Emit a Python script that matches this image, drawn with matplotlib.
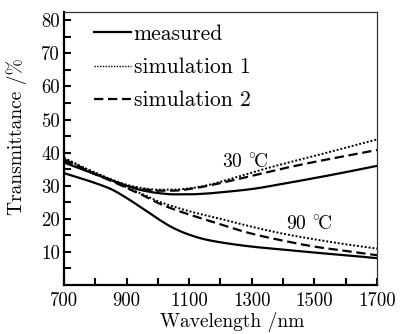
import matplotlib
matplotlib.use("Agg")
import matplotlib.pyplot as plt
from matplotlib.lines import Line2D
import numpy as np

plt.rcParams['font.family'] = ['cmr10', 'DejaVu Serif', 'Noto Sans CJK SC']
plt.rcParams['axes.unicode_minus'] = False
plt.rcParams['mathtext.fontset'] = 'cm'

# wavelength grid (nm)
wl = [700, 800, 850, 900, 950, 1000, 1050, 1100, 1150, 1200, 1300, 1400, 1500, 1600, 1700]

# 30 C curves
meas_30 = [37.0, 33.5, 31.7, 30.0, 28.6, 27.8, 27.4, 27.4, 27.6, 28.0, 29.0, 30.6, 32.3, 34.1, 36.0]
sim1_30 = [38.5, 33.8, 32.0, 30.3, 29.3, 28.8, 28.8, 29.2, 30.0, 31.2, 34.0, 36.6, 39.0, 41.5, 44.0]
sim2_30 = [38.0, 33.5, 31.7, 30.0, 29.0, 28.5, 28.5, 29.0, 29.8, 30.8, 33.0, 35.2, 37.2, 39.0, 40.8]

# 90 C curves
meas_90 = [33.8, 30.8, 29.0, 26.3, 23.2, 20.0, 17.2, 15.2, 13.8, 12.9, 11.6, 10.7, 9.8, 9.0, 8.1]
sim1_90 = [38.0, 34.0, 31.8, 29.5, 27.5, 25.3, 23.7, 22.3, 21.1, 20.0, 17.6, 15.5, 13.8, 12.3, 11.0]
sim2_90 = [37.5, 33.5, 31.5, 29.3, 27.2, 24.8, 22.9, 21.3, 19.8, 18.3, 15.5, 13.4, 11.6, 10.3, 9.0]

labels = ["measured", "simulation 1", "simulation 2"]
x_ticks = [700, 900, 1100, 1300, 1500, 1700]
y_ticks = [10, 20, 30, 40, 50, 60, 70, 80]


def pchip(x, y, xn):
    x = np.asarray(x, float)
    y = np.asarray(y, float)
    h = np.diff(x)
    d = np.diff(y) / h
    n = len(x)
    m = np.zeros(n)
    for i in range(1, n - 1):
        if d[i - 1] * d[i] <= 0:
            m[i] = 0.0
        else:
            w1 = 2 * h[i] + h[i - 1]
            w2 = h[i] + 2 * h[i - 1]
            m[i] = (w1 + w2) / (w1 / d[i - 1] + w2 / d[i])
    m[0] = d[0]
    m[-1] = d[-1]
    idx = np.clip(np.searchsorted(x, xn) - 1, 0, n - 2)
    t = (xn - x[idx]) / h[idx]
    h00 = 2 * t**3 - 3 * t**2 + 1
    h10 = t**3 - 2 * t**2 + t
    h01 = -2 * t**3 + 3 * t**2
    h11 = t**3 - t**2
    return (h00 * y[idx] + h10 * h[idx] * m[idx] + h01 * y[idx + 1]
            + h11 * h[idx] * m[idx + 1])


fig = plt.figure(figsize=(4.02, 3.34), dpi=100)
ax = fig.add_axes([64/402, 1-285/334, (377-64)/402, (285-12)/334])

solid = dict(color='black', lw=1.6, linestyle='-')
dotted = dict(color='black', lw=1.4, linestyle=(0, (1, 1)))
dashed = dict(color='black', lw=1.6, linestyle=(0, (4.2, 2.1)))

xf = np.linspace(700, 1700, 400)
for ys, st in [(meas_30, solid), (sim1_30, dotted), (sim2_30, dashed),
               (meas_90, solid), (sim1_90, dotted), (sim2_90, dashed)]:
    ax.plot(xf, pchip(wl, ys, xf), **st)

ax.set_xlim(700, 1700)
ax.set_ylim(0, 82.5)
ax.set_xticks(x_ticks)
ax.set_xticklabels([str(v) for v in x_ticks])
ax.set_xticks(np.arange(800, 1700, 200), minor=True)
ax.set_yticks(y_ticks)
ax.set_yticklabels([str(v) for v in y_ticks])
ax.set_yticks(np.arange(5, 80, 10), minor=True)

ax.tick_params(axis='both', which='both', direction='in', length=5, width=1.5,
               top=False, right=False)
ax.tick_params(axis='x', which='major', labelsize=13.5, pad=5)
ax.tick_params(axis='y', which='major', labelsize=13.5, pad=3)

for s in ['left', 'bottom']:
    ax.spines[s].set_linewidth(1.6)
for s in ['top', 'right']:
    ax.spines[s].set_linewidth(0.9)
    ax.spines[s].set_color('#333333')

ax.set_xlabel("Wavelength /nm", fontsize=14)
ax.xaxis.set_label_coords((232 - 64) / 313, (285 - 312) / 273)
ax.set_ylabel("Transmittance /%", fontsize=14)
ax.yaxis.set_label_coords((27 - 64) / 313, (285 - 136.5) / 273)

ax.text(1205, 36.9, r"30 $^{\circ}\!$C", fontsize=14, ha='left', va='center')
ax.text(1409, 18.4, r"90 $^{\circ}\!$C", fontsize=14, ha='left', va='center')

handles = [Line2D([], [], color='black', lw=1.6, linestyle='-'),
           Line2D([], [], color='black', lw=1.0, linestyle=(0, (1, 1))),
           Line2D([], [], color='black', lw=1.6, linestyle=(0, (4.2, 2.1)))]
leg = ax.legend(handles, labels, loc='upper left', bbox_to_anchor=(0.095, 0.955),
                frameon=False, fontsize=15.5, handlelength=1.75, handletextpad=0.1,
                labelspacing=0.64, borderpad=0, borderaxespad=0)

fig.savefig("out.png", dpi=100)
